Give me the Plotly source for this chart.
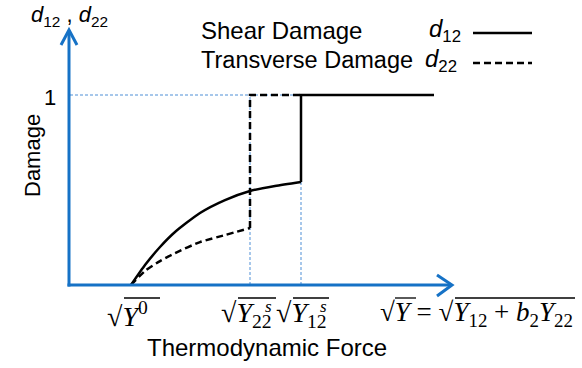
import plotly.graph_objects as go

# Thermodynamic force thresholds (schematic units)
Y0 = 0.61
Y22_S = 1.80
Y12_S = 2.31
FORCE_MAX = 3.64
SATURATED = 1.0

# Shear damage d12 before it saturates at Y12_S
d12_force = [0.61, 0.75, 0.90, 1.05, 1.30, 1.55, 1.80, 2.05, 2.31]
d12_values = [0.0, 0.105, 0.200, 0.279, 0.379, 0.447, 0.495, 0.521, 0.542]

# Transverse damage d22 before it saturates at Y22_S
d22_force = [0.61, 0.75, 0.90, 1.05, 1.30, 1.55, 1.80]
d22_values = [0.0, 0.074, 0.126, 0.168, 0.226, 0.263, 0.300]

W, H = 582, 368
BLUE = "#1672C6"
GUIDE = "#4F8FD6"
SANS = "Liberation Sans, Arial, sans-serif"
SERIF = "Liberation Serif, Times New Roman, serif"


def px(x):
    return x / W


def py(y):
    return 1 - y / H


fig = go.Figure()

# damage curves
fig.add_trace(go.Scatter(x=d12_force, y=d12_values, mode="lines",
                         line=dict(color="black", width=2.5, shape="spline", smoothing=0.6)))
fig.add_trace(go.Scatter(x=[Y12_S, Y12_S, FORCE_MAX],
                         y=[d12_values[-1], SATURATED, SATURATED], mode="lines",
                         line=dict(color="black", width=2.5)))
fig.add_trace(go.Scatter(x=d22_force, y=d22_values, mode="lines",
                         line=dict(color="black", width=2.5, dash="7px,4px",
                                   shape="spline", smoothing=0.6)))
fig.add_trace(go.Scatter(x=[Y22_S, Y22_S, Y12_S],
                         y=[d22_values[-1], SATURATED, SATURATED], mode="lines",
                         line=dict(color="black", width=2.5, dash="7px,4px")))

shapes = []
guide = dict(color=GUIDE, width=1, dash="3px,2px")
shapes.append(dict(type="line", xref="x", yref="y", x0=0.0, x1=Y12_S,
                   y0=SATURATED, y1=SATURATED, line=guide, layer="below"))
shapes.append(dict(type="line", xref="x", yref="y", x0=Y22_S, x1=Y22_S,
                   y0=0, y1=SATURATED, line=guide, layer="below"))
shapes.append(dict(type="line", xref="x", yref="y", x0=Y12_S, x1=Y12_S,
                   y0=0, y1=d12_values[-1], line=guide, layer="below"))

# axes with open arrowheads
axis_line = dict(color=BLUE, width=3)
shapes.append(dict(type="line", xref="x", yref="y", x0=-0.01, x1=-0.01,
                   y0=-0.008, y1=1.335, line=axis_line))
shapes.append(dict(type="line", xref="x", yref="y", x0=-0.025, x1=3.81,
                   y0=0, y1=0, line=axis_line))
shapes.append(dict(type="path", xref="x", yref="y",
                   path="M -0.09,1.263 L -0.01,1.342 L 0.07,1.263", line=axis_line))
shapes.append(dict(type="path", xref="x", yref="y",
                   path="M 3.67,0.053 L 3.82,0 L 3.67,-0.058", line=axis_line))

# legend samples
shapes.append(dict(type="line", xref="paper", yref="paper", x0=px(473), x1=px(532),
                   y0=py(33), y1=py(33), line=dict(color="black", width=2.5)))
shapes.append(dict(type="line", xref="paper", yref="paper", x0=px(473), x1=px(532),
                   y0=py(63), y1=py(63), line=dict(color="black", width=2.5, dash="7px,4px")))

ann = []


def text(x, y, s, size, family=SANS, xanchor="left", yanchor="middle", angle=0,
         xref="paper", xshift=0):
    ann.append(dict(x=x, y=y, xref=xref, yref="paper", text=s, showarrow=False,
                    xanchor=xanchor, yanchor=yanchor, textangle=angle, xshift=xshift,
                    font=dict(family=family, size=size, color="black")))


def vinculum(x0, x1, y):
    shapes.append(dict(type="line", xref="paper", yref="paper", x0=px(x0), x1=px(x1),
                       y0=py(y), y1=py(y), line=dict(color="black", width=1.3)))


text(px(29), py(16), "<i>d</i><sub>12</sub> , <i>d</i><sub>22</sub>", 22)
text(px(58), py(97), "1", 22, xanchor="right")
text(px(32), py(156), "Damage", 22, xanchor="center", angle=-90)
text(px(199), py(30), "Shear Damage", 24)
text(px(199), py(60), "Transverse Damage", 23.5)
text(px(427), py(30), "<i>d</i><sub>12</sub>", 24)
text(px(423), py(60), "<i>d</i><sub>22</sub>", 24)
text(px(267), py(347), "Thermodynamic Force", 24, xanchor="center")

# force labels under the axis, anchored at the thresholds
MATH = 28
text(Y0, py(314), "√<i>Y</i><sup>0</sup>", MATH, SERIF, xref="x", xshift=-26)
vinculum(124, 160, 298)
text(Y22_S, py(314), "√<i>Y</i><sub>22</sub>", MATH, SERIF, xref="x", xshift=-31)
text(Y22_S, py(306), "<i>s</i>", 17, SERIF, xref="x", xshift=13)
vinculum(238, 276, 298)
text(Y12_S, py(314), "√<i>Y</i><sub>12</sub>", MATH, SERIF, xref="x", xshift=-27)
text(Y12_S, py(306), "<i>s</i>", 17, SERIF, xref="x", xshift=17)
vinculum(293, 329, 298)
text(px(378), py(314), "√<i>Y</i> = √<i>Y</i><sub>12</sub> + <i>b</i><sub>2</sub><i>Y</i><sub>22</sub>",
     27, SERIF)
vinculum(395, 416, 298)
vinculum(455, 575, 298)

fig.update_layout(
    width=W, height=H, margin=dict(l=0, r=0, t=0, b=0),
    paper_bgcolor="white", plot_bgcolor="white", showlegend=False,
    xaxis=dict(range=[-0.70, 5.12], visible=False, fixedrange=True),
    yaxis=dict(range=[-0.4368, 1.5], visible=False, fixedrange=True),
    shapes=shapes, annotations=ann,
)

fig.write_html("out.html")
